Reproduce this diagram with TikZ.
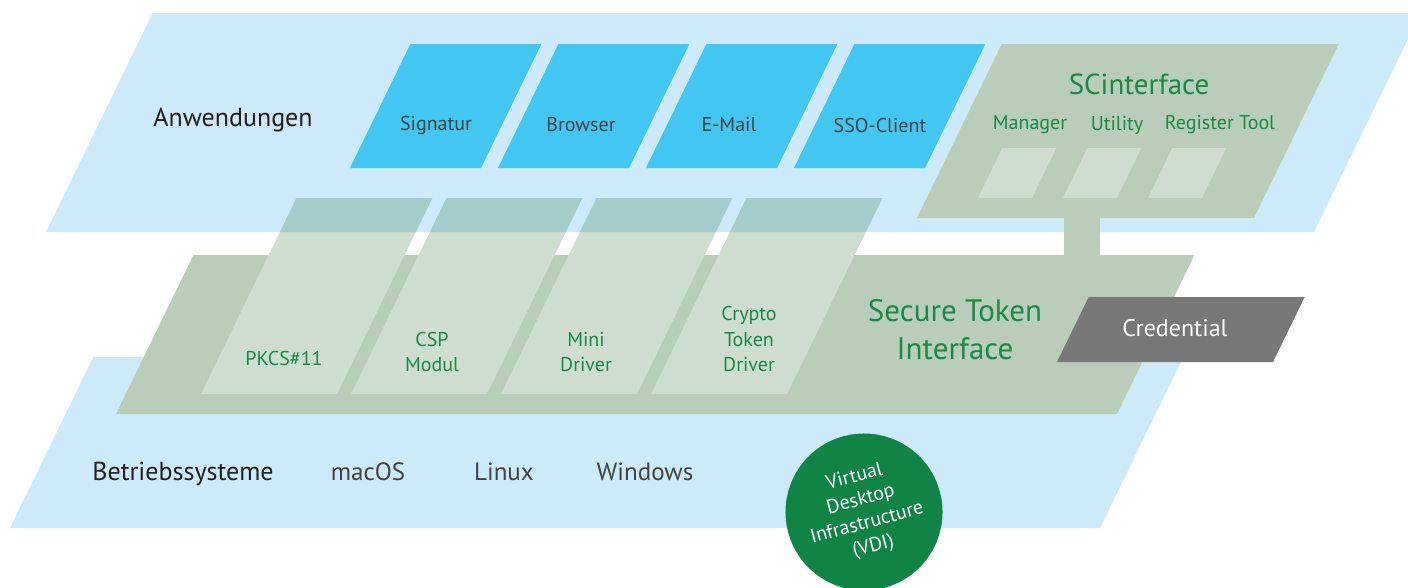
\documentclass[tikz,border=0pt]{standalone}
\usepackage{fontspec}
\setmainfont{PT Sans}
\usepackage{xcolor}
\usetikzlibrary{positioning}

\definecolor{layerblue}{HTML}{CCEAF9}
\definecolor{appblue}{HTML}{42C6F2}
\definecolor{tokengreen}{HTML}{B9CDB8}
\definecolor{modgreen}{HTML}{CEDDCE}
\definecolor{overlapgreen}{HTML}{A5CBCA}
\definecolor{textgreen}{HTML}{178A47}
\definecolor{credgray}{HTML}{787878}
\definecolor{vdigreen}{HTML}{108444}
\definecolor{darktext}{HTML}{231F20}

% slanted slab: bottom left x, y, width, height
\newcommand{\slab}[4]{(#1,#2) -- ++(#3,0) -- ++({0.487*#4},{-#4}) -- ++({-#3},0) -- cycle}

\begin{document}
\begin{tikzpicture}[x=1pt, y=-1pt,
    every node/.style={inner sep=0pt},
    layer/.style={font=\fontsize{26}{30}\selectfont, text=darktext},
    os/.style={font=\fontsize{25}{30}\selectfont, text=darktext!85},
    app/.style={font=\fontsize{20}{24}\selectfont, text=darktext!85},
    tool/.style={font=\fontsize{20}{24}\selectfont, text=textgreen},
    module/.style={font=\fontsize{20}{25.5}\selectfont, text=textgreen, align=center},
    title/.style={font=\fontsize{31}{38}\selectfont, text=textgreen, align=center},
    vdi/.style={circle, fill=vdigreen, minimum size=157pt, text=white, align=center,
        font=\fontsize{20}{24}\selectfont}
]
\useasboundingbox (0,0) rectangle (1408,587);

% Betriebssysteme / Secure Token Interface
\fill[layerblue] \slab{10}{528}{1090}{171};
\fill[tokengreen] \slab{116}{414}{1001}{159};
\foreach \x in {201,351,501,651}
    \fill[modgreen] \slab{\x}{394}{136}{196};

% Anwendungen
\fill[layerblue] \slab{46}{232}{1268}{219};
\begin{scope}
    \clip \slab{46}{232}{1268}{219};
    \foreach \x in {201,351,501,651}
        \fill[overlapgreen] \slab{\x}{394}{136}{196};
\end{scope}
\foreach \x in {350,498,646,794}
    \fill[appblue] \slab{\x}{168}{131}{124};

% SCinterface
\fill[tokengreen] \slab{917}{218}{337}{174};
\foreach \x in {978,1063,1148}
    \fill[modgreen] \slab{\x}{198}{54}{50};
\coordinate (sci-foot) at (1064,217);
\coordinate (sti-top) at (1100,256);
\fill[tokengreen] (sci-foot) rectangle (sti-top);

\fill[credgray] \slab{1057}{362}{216}{65};

\node[layer] (anw) at (233,120) {Anwendungen};
\node[app] (sig) at (436,125) {Signatur};
\node[app] (brw) at (581,125) {Browser};
\node[app] (mail) at (729,125) {E-Mail};
\node[app] (sso) at (880,125) {SSO-Client};

\node[font=\fontsize{29}{32}\selectfont, text=textgreen] (sci) at (1139,84) {SCinterface};
\node[tool] (mgr) at (1030,125) {Manager};
\node[tool] (util) at (1117,125) {Utility};
\node[tool] (reg) at (1220,125) {Register Tool};

\node[module] (pkcs) at (284,358) {PKCS\#11};
\node[module] (csp) at (432,352) {CSP\\Modul};
\node[module] (mini) at (586,352) {Mini\\Driver};
\node[module] (ctd) at (749,339) {Crypto\\Token\\Driver};
\node[title] (sti) at (955,330) {Secure Token\\Interface};
\node[font=\fontsize{24}{28}\selectfont, text=white] (cred) at (1175,328) {Credential};

\node[layer] (bs) at (183,474) {Betriebssysteme};
\node[os] (mac) at (368,472) {macOS};
\node[os] (lin) at (504,472) {Linux};
\node[os] (win) at (645,472) {Windows};

\node[vdi, rotate=15] (vdiring) at (864,512) {Virtual\\Desktop\\Infrastructure\\(VDI)};
\end{tikzpicture}
\end{document}
